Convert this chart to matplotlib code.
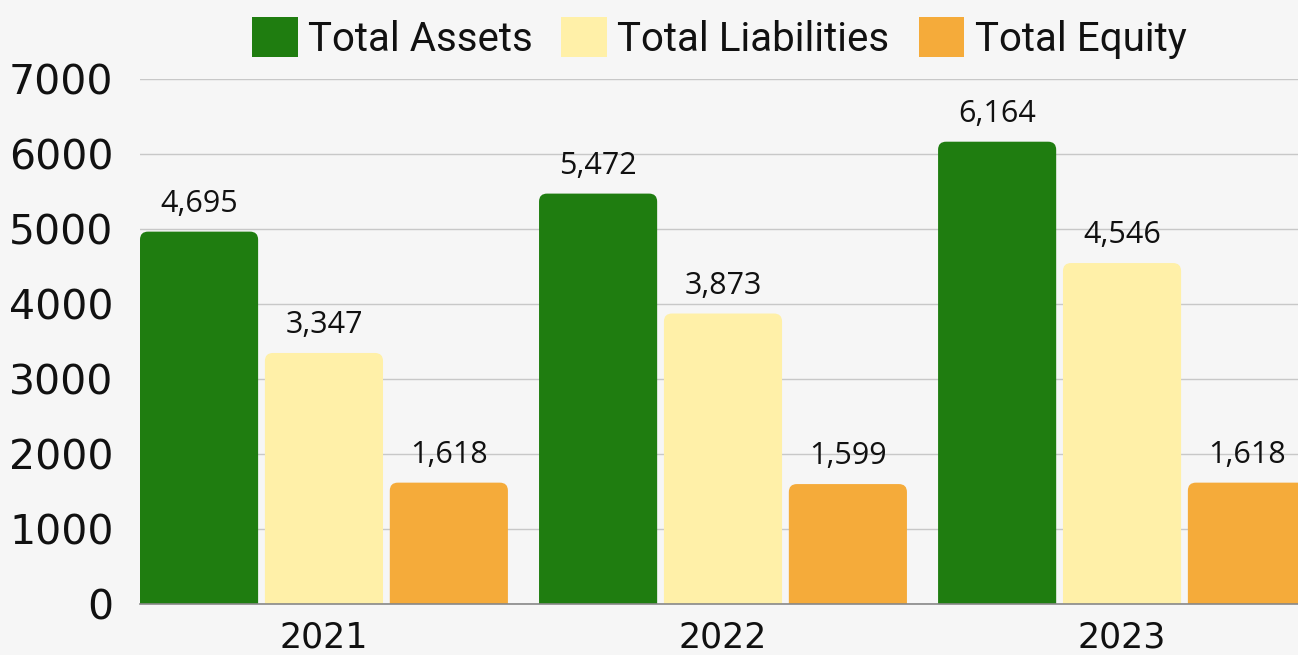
import matplotlib
matplotlib.use("Agg")
import matplotlib.pyplot as plt
import numpy as np
from matplotlib.patches import FancyBboxPatch, Patch

years = ["2021", "2022", "2023"]
series_names = ["Total Assets", "Total Liabilities", "Total Equity"]
assets = [4965, 5472, 6164]
liabilities = [3347, 3873, 4546]
equity = [1618, 1599, 1618]
assets_labels = ["4,695", "5,472", "6,164"]
liabilities_labels = ["3,347", "3,873", "4,546"]
equity_labels = ["1,618", "1,599", "1,618"]
yticks = [0, 1000, 2000, 3000, 4000, 5000, 6000, 7000]

colors = ["#1f7d10", "#fff0a8", "#f5ab3a"]
series = [assets, liabilities, equity]
labels = [assets_labels, liabilities_labels, equity_labels]

W, H = 1298, 655
fig = plt.figure(figsize=(W / 100, H / 100), dpi=100, facecolor="#f6f6f6")
left, right = 140 / W, 1.0
bottom, top = (H - 604) / H, (H - 79) / H
ax = fig.add_axes([left, bottom, right - left, top - bottom])
ax.set_facecolor("none")

step = 0.313
width = 0.296
x = np.arange(len(years))
xmin, xmax = -step - width / 2, 2.441
ax.set_xlim(xmin, xmax)
ax.set_ylim(0, 7000)

# pixel scales for rounded corners
ax_w_px = (right - left) * W
ax_h_px = (top - bottom) * H
xu_per_px = (xmax - xmin) / ax_w_px
yu_per_px = 7000 / ax_h_px
radius_px = 8
aspect = yu_per_px / xu_per_px

for i, (vals, labs, c) in enumerate(zip(series, labels, colors)):
    pos = x + (i - 1) * step
    bars = ax.bar(pos, vals, width, color=c, zorder=3)
    for b, v, lab in zip(bars, vals, labs):
        bx, bw = b.get_x(), b.get_width()
        b.remove()
        r = radius_px * xu_per_px
        p = FancyBboxPatch((bx, -radius_px * 3 * yu_per_px), bw, v + radius_px * 3 * yu_per_px,
                           boxstyle=f"round,pad=0,rounding_size={r}",
                           mutation_aspect=aspect, facecolor=c, edgecolor="none",
                           zorder=3)
        ax.add_patch(p)
        ax.annotate(lab, (bx + bw / 2, v), xytext=(0, 20), textcoords="offset points",
                    ha="center", va="center", fontsize=22, color="#111111",
                    family="Open Sans", zorder=5)

ax.set_yticks(yticks)
ax.set_yticklabels([str(t) for t in yticks], fontsize=29.5, color="#111111", family="DejaVu Sans")
ax.set_xticks(x)
ax.set_xticklabels(years, fontsize=25, color="#111111", family="DejaVu Sans")
ax.tick_params(axis="y", length=0, pad=19)
ax.tick_params(axis="x", length=0, pad=12)
ax.grid(axis="y", color="#c8c8c8", linewidth=1, zorder=0)
ax.set_axisbelow(True)
for s in ["top", "right", "left"]:
    ax.spines[s].set_visible(False)
ax.spines["bottom"].set_color("#888888")
ax.spines["bottom"].set_linewidth(1.2)
ax.spines["bottom"].set_zorder(4)

handles = [Patch(facecolor=c, edgecolor="none") for c in colors]
fig.legend(handles, series_names, loc="center", bbox_to_anchor=(719 / W, 1 - 38 / H),
           ncol=3, frameon=False, prop={"family": "Roboto", "size": 29},
           handlelength=1.14, handleheight=1.14, handletextpad=0.25, columnspacing=0.72,
           borderpad=0, labelcolor="#111111")

fig.savefig("out.png", dpi=100, facecolor=fig.get_facecolor())
